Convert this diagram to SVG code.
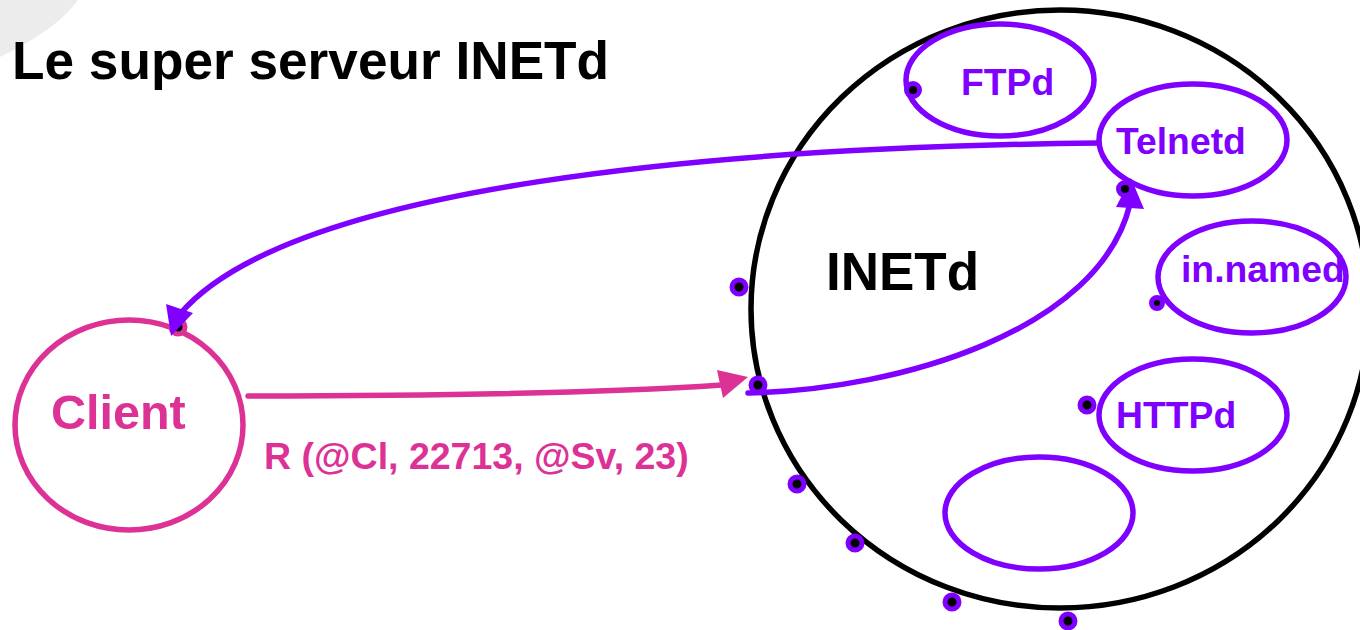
<svg xmlns="http://www.w3.org/2000/svg" width="1360" height="630" viewBox="0 0 1360 630">
<style>
text{font-family:"Liberation Sans",Arial,sans-serif;font-weight:700}
.p{fill:none;stroke:#8000ff;stroke-width:5.5}
.port{fill:#000;stroke:#8000ff;stroke-width:5}
.t{fill:#8000ff;font-size:37.3px}
.c{fill:#dc3296}
</style>
<rect width="1360" height="630" fill="#fff"/>
<path d="M0 57C35 40 62 22 78 0H0Z" fill="#ececec"/>
<text x="12" y="79" font-size="53.2">Le super serveur INETd</text>
<g id="inetd">
<ellipse cx="1060" cy="309" rx="309" ry="299" fill="none" stroke="#000" stroke-width="5.5"/>
<text x="826" y="290" font-size="53">INETd</text>
</g>
<g id="client">
<ellipse cx="129" cy="425" rx="114" ry="105" fill="none" stroke="#dc3296" stroke-width="5.5"/>
<text class="c" x="51" y="429" font-size="48.5">Client</text>
</g>
<g id="connectors-under">
<path d="M1116 207L1131 178L1144 209Z" fill="#8000ff"/>
</g>
<g id="ftpd"><ellipse class="p" cx="1000" cy="80" rx="94" ry="56"/><text class="t" x="961" y="95">FTPd</text></g>
<g id="telnetd"><ellipse class="p" cx="1193" cy="140" rx="94" ry="56"/><text class="t" x="1116" y="154">Telnetd</text></g>
<g id="innamed"><ellipse class="p" cx="1252" cy="277" rx="94" ry="56"/><text class="t" x="1181" y="282">in.named</text></g>
<g id="httpd"><ellipse class="p" cx="1193" cy="415" rx="94" ry="56"/><text class="t" x="1116" y="428">HTTPd</text></g>
<g id="empty"><ellipse class="p" cx="1039" cy="513" rx="94" ry="56"/></g>
<g id="ports">
<circle class="port" cx="913" cy="90" r="6.5"/>
<circle class="port" cx="1125" cy="189" r="6.5"/>
<circle class="port" cx="1157" cy="303" r="5.5"/>
<circle class="port" cx="739" cy="287" r="7"/>
<circle class="port" cx="758" cy="385" r="7"/>
<circle class="port" cx="1087" cy="405" r="7"/>
<circle class="port" cx="797" cy="484" r="7"/>
<circle class="port" cx="855" cy="543" r="7"/>
<circle class="port" cx="952" cy="602" r="7"/>
<circle class="port" cx="1068" cy="621" r="7"/>
<circle cx="178" cy="327" r="7" fill="#000" stroke="#dc3296" stroke-width="5"/>
</g>
<g id="connectors">
<path d="M248 396C420 396 590 394 722 385" fill="none" stroke="#dc3296" stroke-width="5.5" stroke-linecap="round"/>
<path d="M717 370L748 377L723 398Z" fill="#dc3296"/>
<path d="M748 393C900 390 1100 330 1130 204" fill="none" stroke="#8000ff" stroke-width="5.5" stroke-linecap="round"/>
<path d="M1099 143C720 147 290 185 180 314" fill="none" stroke="#8000ff" stroke-width="5.5"/>
<path d="M166 304L193 313L171 336Z" fill="#8000ff"/>
</g>
<text class="c" x="264" y="469" font-size="37.5">R (@Cl, 22713, @Sv, 23)</text>
</svg>
